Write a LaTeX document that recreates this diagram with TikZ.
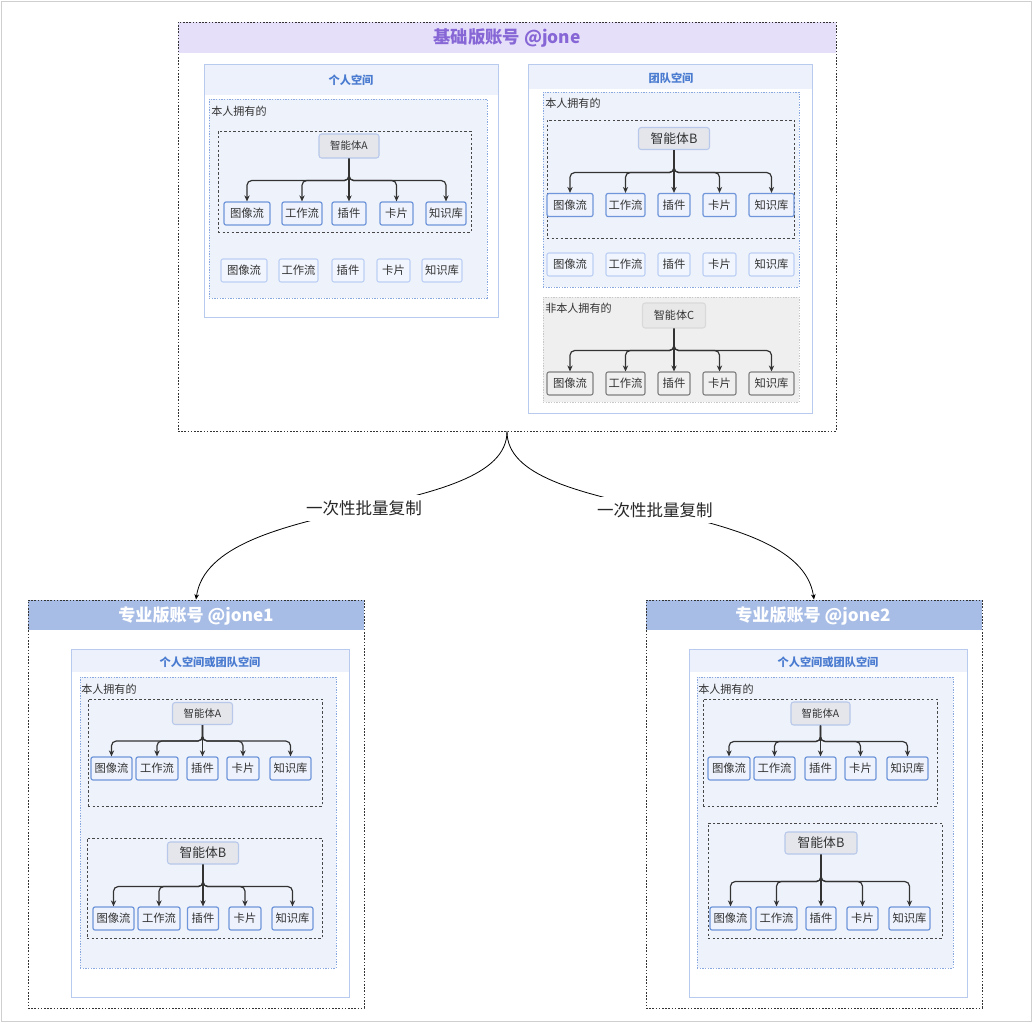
\documentclass[tikz,border=0pt]{standalone}
\usepackage{fontspec}
\setmainfont{Noto Sans CJK SC}
\usetikzlibrary{arrows.meta}
\definecolor{purhead}{HTML}{E6DFFA}
\definecolor{purtext}{HTML}{8767D6}
\definecolor{bluehead}{HTML}{A8BDE6}
\definecolor{panelbd}{HTML}{B8CBEF}
\definecolor{panelhd}{HTML}{ECF1FB}
\definecolor{dotbd}{HTML}{8AA8E0}
\definecolor{dotfill}{HTML}{EEF2FB}
\definecolor{kidbd}{HTML}{6F95DA}
\definecolor{kidfill}{HTML}{EEF2FC}
\definecolor{litebd}{HTML}{BCD0F4}
\definecolor{litefill}{HTML}{F1F5FD}
\definecolor{agfill}{HTML}{E4E6EC}
\definecolor{agbd}{HTML}{B7C8EA}
\definecolor{titleblue}{HTML}{4A7BD0}
\definecolor{grayfill}{HTML}{EFEFEF}
\definecolor{graybd}{HTML}{C8C8C8}
\definecolor{graykid}{HTML}{7F7F7F}
\definecolor{txt}{HTML}{333333}
\definecolor{frame}{HTML}{CFCFCF}

\tikzset{
 x=0.75pt,y=-0.75pt,
 every node/.style={inner sep=0pt, text=txt},
 acc/.style={draw=txt, line width=0.7pt, dash pattern=on 1.2pt off 1.2pt},
 panel/.style={draw=panelbd, fill=white, line width=0.7pt},
 own/.style={draw=dotbd, fill=dotfill, line width=0.7pt, dash pattern=on 1pt off 1pt},
 grp/.style={draw=txt!90, line width=0.65pt, dash pattern=on 1.8pt off 1.6pt},
 notown/.style={draw=graybd, fill=grayfill, line width=0.6pt, dash pattern=on 1pt off 1pt},
 kid/.style={draw=kidbd, fill=kidfill, line width=0.9pt, rounded corners=1.5pt, font=\fontsize{8.5}{10}\selectfont},
 litekid/.style={draw=litebd, fill=litefill, line width=0.8pt, rounded corners=1.5pt, font=\fontsize{8.5}{10}\selectfont},
 graykid/.style={draw=graykid, fill=grayfill, line width=0.8pt, rounded corners=1.5pt, font=\fontsize{8.5}{10}\selectfont},
 agent/.style={draw=agbd, fill=agfill, line width=0.8pt, rounded corners=2pt},
 agentc/.style={draw=graybd!70, fill=black!9, line width=0.8pt, rounded corners=2pt, font=\fontsize{8.3}{10}\selectfont},
 agsmall/.style={agent, font=\fontsize{7.8}{10}\selectfont},
 agbig/.style={agent, font=\fontsize{9.6}{11}\selectfont},
 lab/.style={anchor=west, font=\fontsize{8.3}{10}\selectfont},
 ptitle/.style={text=titleblue, font=\bfseries\fontsize{8.4}{10}\selectfont},
 conn/.style={draw=txt, line width=0.9pt, rounded corners=3.5pt, -{Stealth[length=4.5pt,width=4pt]}},
 curv/.style={draw=black, line width=0.6pt, -{Stealth[length=4pt,width=3.5pt]}},
 cplab/.style={fill=white, inner sep=4pt, font=\fontsize{12.4}{14}\selectfont, text=black!85},
}

\newcommand\kidrow[4]{\foreach \cx/\w/\t [count=\i] in {#4}{\node[#2, minimum width=\w*0.75pt, minimum height=23*0.75pt] (#1\i) at (\cx,#3) {\t};}}
\newcommand\fan[3]{\foreach \i in {1,2,4,5}{\draw[conn] (#1.south) -- ++(0,#3) -| (#2\i.north);}\draw[conn] (#1.south) -- (#23.north);}
\newcommand\bx[6]{\node[#1, minimum width=#5*0.75pt, minimum height=#6*0.75pt] (#2) at (#3,#4) {};}

\begin{document}
\begin{tikzpicture}
\useasboundingbox (0,0) rectangle (1032,1022);
\draw[frame, line width=0.6pt] (1,1) rectangle (1031,1021);

% ===== top account =====
\fill[purhead] (178,22) rectangle (836,53);
\bx{acc}{acc0}{507}{226.5}{658}{409}
\node[text=purtext, font=\bfseries\fontsize{13}{15}\selectfont] (t0) at (507,38) {基础版账号 @jone};

% personal space
\bx{panel}{p1}{351}{190.5}{294}{253}
\fill[panelhd] (204.5,64.5) rectangle (497.5,95);
\node[ptitle] (p1t) at (351,80) {个人空间};
\bx{own}{o1}{348}{198.5}{278}{199}
\node[lab] (o1l) at (211,111) {本人拥有的};
\bx{grp}{g1}{344.5}{181.5}{253}{101}
\node[agsmall, minimum width=60*0.75pt, minimum height=24*0.75pt] (agA0) at (349,146) {智能体A};
\kidrow{a0k}{kid}{213.5}{247/46/图像流, 302/40/工作流, 349/34/插件, 396.5/33/卡片, 446/40/知识库}
\fan{agA0}{a0k}{22}
\kidrow{a0l}{litekid}{270.5}{244/46/图像流, 298.5/39/工作流, 348/32/插件, 393.5/33/卡片, 442/40/知识库}

% team space
\bx{panel}{p2}{670}{238.5}{284}{349}
\fill[panelhd] (528.5,64.5) rectangle (811.5,89);
\node[ptitle] (p2t) at (671,78) {团队空间};
\bx{own}{o2}{671}{189.5}{256}{195}
\node[lab] (o2l) at (545,103) {本人拥有的};
\bx{grp}{g2}{670.5}{179}{247}{118}
\node[agbig, minimum width=71*0.75pt, minimum height=22*0.75pt] (agB0) at (674,138.5) {智能体B};
\kidrow{b0k}{kid}{205}{570/46/图像流, 625.5/39/工作流, 674/32/插件, 719.5/33/卡片, 771.5/45/知识库}
\fan{agB0}{b0k}{22.5}
\kidrow{b0l}{litekid}{264.5}{570/46/图像流, 625.5/39/工作流, 674/32/插件, 719.5/33/卡片, 771.5/45/知识库}
\bx{notown}{n2}{671}{349.5}{256}{105}
\node[lab] (n2l) at (545,308) {非本人拥有的};
\node[agentc, minimum width=63*0.75pt, minimum height=25*0.75pt] (agC0) at (674,315.5) {智能体C};
\kidrow{c0k}{graykid}{383.5}{570/46/图像流, 625.5/39/工作流, 674/32/插件, 719.5/33/卡片, 771.5/45/知识库}
\fan{agC0}{c0k}{22}

% ===== bottom left account =====
\fill[bluehead] (28,600) rectangle (364,630);
\bx{acc}{acc1}{196}{804}{336}{408}
\node[text=white, font=\bfseries\fontsize{12.8}{15}\selectfont] (t1) at (196,616) {专业版账号 @jone1};
\bx{panel}{p3}{210}{823}{278}{348}
\fill[panelhd] (71.5,649.5) rectangle (348.5,672);
\node[ptitle] (p3t) at (210,662) {个人空间或团队空间};
\bx{own}{o3}{208}{822.5}{256}{291}
\node[lab] (o3l) at (81,689) {本人拥有的};
\bx{grp}{g3a}{205}{752.5}{234}{107}
\node[agsmall, minimum width=60*0.75pt, minimum height=22*0.75pt] (agA1) at (202.5,713.5) {智能体A};
\kidrow{a1k}{kid}{768.5}{111.5/41/图像流, 157/42/工作流, 202.5/31/插件, 243/32/卡片, 290.5/41/知识库}
\fan{agA1}{a1k}{16}
\bx{grp}{g3b}{204.5}{888}{235}{100}
\node[agbig, minimum width=71*0.75pt, minimum height=22*0.75pt] (agB1) at (203,853) {智能体B};
\kidrow{b1k}{kid}{918.5}{113.5/41/图像流, 159/42/工作流, 203/31/插件, 245/32/卡片, 292.5/41/知识库}
\fan{agB1}{b1k}{22}

% ===== bottom right account =====
\fill[bluehead] (646,600) rectangle (982,630);
\bx{acc}{acc2}{814}{804}{336}{408}
\node[text=white, font=\bfseries\fontsize{12.8}{15}\selectfont] (t2) at (813,616) {专业版账号 @jone2};
\bx{panel}{p4}{828}{823}{278}{348}
\fill[panelhd] (689.5,649.5) rectangle (966.5,672);
\node[ptitle] (p4t) at (828,662) {个人空间或团队空间};
\bx{own}{o4}{825}{822.5}{256}{291}
\node[lab] (o4l) at (698,689) {本人拥有的};
\bx{grp}{g4a}{820}{752.5}{234}{107}
\node[agsmall, minimum width=59*0.75pt, minimum height=23*0.75pt] (agA2) at (820.5,713.5) {智能体A};
\kidrow{a2k}{kid}{768.5}{729/42/图像流, 774.5/41/工作流, 820.5/31/插件, 860.5/31/卡片, 907.5/41/知识库}
\fan{agA2}{a2k}{16}
\bx{grp}{g4b}{825}{880.5}{234}{115}
\node[agbig, minimum width=72*0.75pt, minimum height=22*0.75pt] (agB2) at (821,843) {智能体B};
\kidrow{b2k}{kid}{918.5}{730.5/41/图像流, 776.5/41/工作流, 821/30/插件, 862.5/31/卡片, 909.5/41/知识库}
\fan{agB2}{b2k}{27}

% ===== copy arrows =====
\draw[curv] (acc0.south) .. controls +(0,90) and +(15,-105) .. (acc1.north) node[pos=0.485, cplab] (cp1) {一次性批量复制};
\draw[curv] (acc0.south) .. controls +(0,90) and +(-15,-105) .. (acc2.north) node[pos=0.5, cplab] (cp2) {一次性批量复制};
\end{tikzpicture}
\end{document}
